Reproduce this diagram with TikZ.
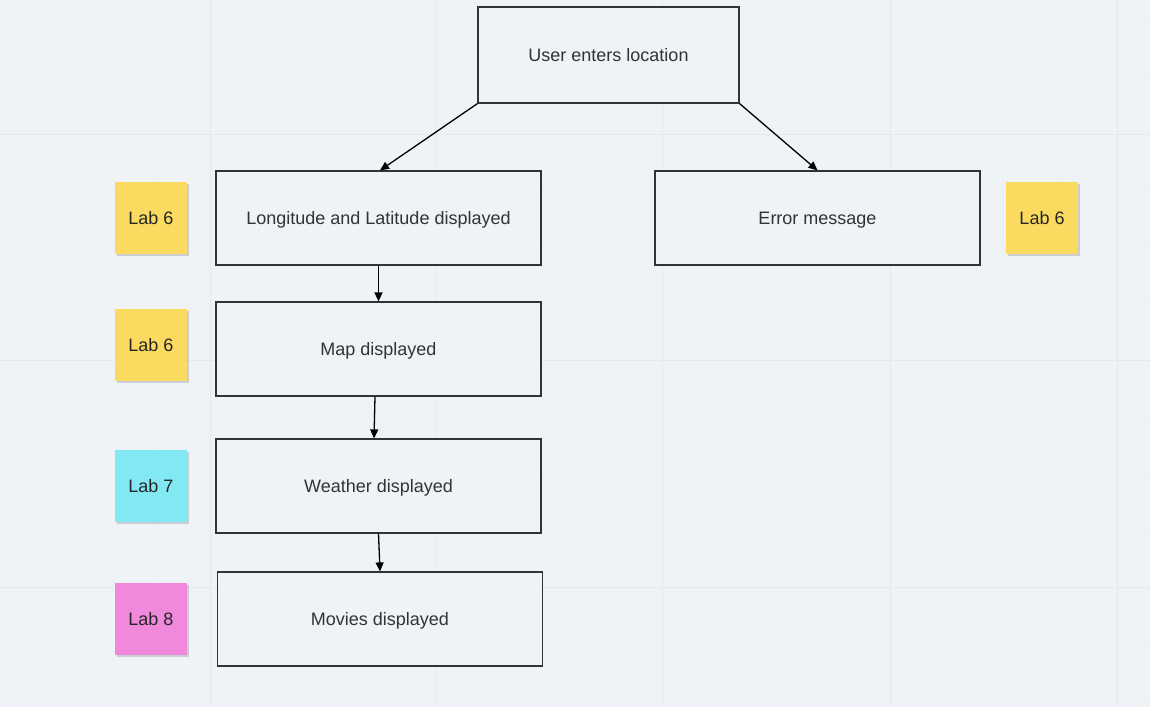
\documentclass[tikz,border=0pt]{standalone}
\usepackage{fontspec}
\setmainfont{Liberation Sans}
\usepackage{tikz}
\usetikzlibrary{arrows.meta,shadows}

\definecolor{boardbg}{RGB}{239,242,246}
\definecolor{gridminor}{RGB}{236,239,243}
\definecolor{gridmajor}{RGB}{229,233,238}
\definecolor{boxline}{RGB}{51,51,51}
\definecolor{stickyyellow}{RGB}{250,219,95}
\definecolor{stickycyan}{RGB}{130,232,243}
\definecolor{stickypink}{RGB}{240,136,220}

\tikzset{
  flowbox/.style={draw=boxline, line width=1.2pt, fill=boardbg, minimum width=325pt, minimum height=94pt, inner sep=0pt, text height=12.9pt, text depth=0pt, text=boxline, font=\fontsize{18}{22}\selectfont},
  sticky/.style={minimum width=72pt, minimum height=72pt, inner sep=0pt, text height=12.9pt, text depth=0pt, text=black!85, font=\fontsize{18}{22}\selectfont, drop shadow={shadow xshift=2pt, shadow yshift=-2pt, opacity=0.15, fill=black}},
  flowarrow/.style={line width=1.3pt, -{Triangle[length=9pt,width=8pt]}}
}

\begin{document}
\begin{tikzpicture}[x=1pt,y=1pt,yscale=-1,xscale=1]
\useasboundingbox [fill=boardbg] (0,0) rectangle (1150,707);

%Grid: minor lines
\foreach \gx in {40,97,153,267,323,380,493,549,606,719,776,833,946,1003,1060}
  \draw [gridminor, line width=0.8pt] (\gx,0) -- (\gx,707);
\foreach \gy in {21,77,190,247,303,417,474,530,644,700}
  \draw [gridminor, line width=0.8pt] (0,\gy) -- (1150,\gy);
%Grid: major lines
\foreach \gx in {210,436,662,890,1117}
  \draw [gridmajor, line width=1pt] (\gx,0) -- (\gx,707);
\foreach \gy in {134,360,587}
  \draw [gridmajor, line width=1pt] (0,\gy) -- (1150,\gy);

%Shape: Rectangle [user]
\node [flowbox, minimum width=261pt, minimum height=96pt] (user) at (608.5,55) {User enters location};
%Shape: Rectangle [lonlat]
\node [flowbox] (lonlat) at (378.5,218) {Longitude and Latitude displayed};
%Shape: Rectangle [error]
\node [flowbox] (error) at (817.5,218) {Error message};
%Shape: Rectangle [map]
\node [flowbox] (map) at (378.5,349) {Map displayed};
%Shape: Rectangle [weather]
\node [flowbox] (weather) at (378.5,486) {Weather displayed};
%Shape: Rectangle [movies]
\node [flowbox] (movies) at (380,619) {Movies displayed};

%Sticky notes
\node [sticky, fill=stickyyellow] (labA) at (151,218) {Lab 6};
\node [sticky, fill=stickyyellow] (labB) at (1042,218) {Lab 6};
\node [sticky, fill=stickyyellow] (labC) at (151,345) {Lab 6};
\node [sticky, fill=stickycyan] (labD) at (151,486) {Lab 7};
\node [sticky, fill=stickypink] (labE) at (151,619) {Lab 8};

%Connectors
\draw [flowarrow] (user.south west) -- ([xshift=1.5pt]lonlat.north);
\draw [flowarrow] (user.south east) -- (error.north);
\draw [flowarrow] (lonlat.south) -- (map.north);
\draw [flowarrow] ([xshift=-3.5pt]map.south) -- ([xshift=-4.5pt]weather.north);
\draw [flowarrow] (weather.south) -- (movies.north);

\end{tikzpicture}
\end{document}
